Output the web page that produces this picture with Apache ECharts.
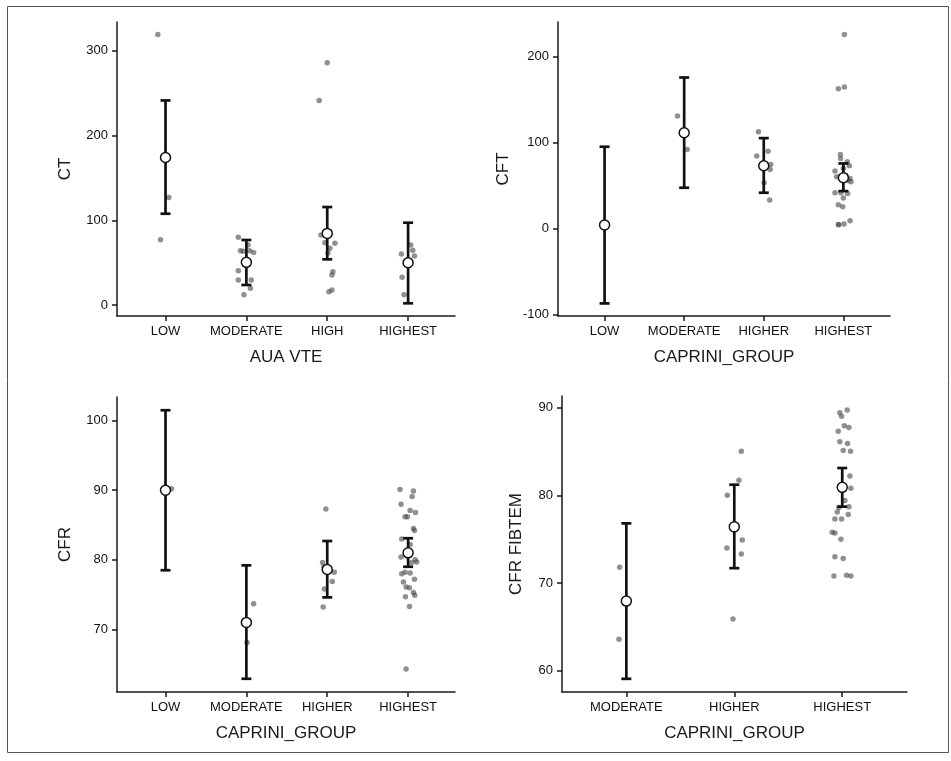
<!DOCTYPE html>
<html>
<head>
<meta charset="utf-8">
<script src="https://cdn.jsdelivr.net/npm/echarts@6/dist/echarts.min.js"></script>
<style>
html,body{margin:0;padding:0;background:#fff;}
#chart{width:951px;height:761px;}
</style>
</head>
<body>
<div id="chart"></div>
<script>
// ---------- Panel 1: CT by AUA VTE ----------
const p1Categories = ['LOW', 'MODERATE', 'HIGH', 'HIGHEST'];
const p1Means = [174.1, 50.3, 84.5, 49.9];
const p1Lower = [107.7, 23.6, 53.9, 2.0];
const p1Upper = [241.4, 76.7, 115.6, 97.1];
const p1Ticks = [0, 100, 200, 300];
// points: [category index, horizontal jitter, value]
const p1Points = [
  [0, -0.095, 319.2], [0, 0.041, 127], [0, -0.062, 77],
  [1, -0.10, 79.8], [1, -0.074, 64.1], [1, -0.04, 63.5], [1, 0.04, 64], [1, 0.09, 62], [1, 0.02, 70.8],
  [1, -0.10, 40.5], [1, -0.10, 29.5], [1, 0.06, 29.5], [1, 0.05, 19.7], [1, -0.03, 12.2],
  [2, -0.10, 241.4], [2, 0.0, 285.8], [2, -0.078, 82.5], [2, -0.029, 73.5], [2, 0.095, 72.8],
  [2, 0.033, 66.9], [2, 0.009, 61.3], [2, 0.07, 39.2], [2, 0.058, 35.4], [2, 0.058, 17.7], [2, 0.021, 15.7],
  [3, -0.083, 60.1], [3, 0.033, 70.8], [3, 0.058, 64.5], [3, 0.078, 57.8], [3, -0.074, 32.6], [3, -0.05, 12.2]
];

// ---------- Panel 2: CFT by CAPRINI_GROUP ----------
const p2Categories = ['LOW', 'MODERATE', 'HIGHER', 'HIGHEST'];
const p2Means = [4.3, 111.4, 73.1, 59.2];
const p2Lower = [-86.7, 47.6, 41.8, 43.7];
const p2Upper = [95.2, 175.6, 105.2, 75.8];
const p2Ticks = [-100, 0, 100, 200];
const p2Points = [
  [1, -0.084, 130.8], [1, 0.038, 92.1],
  [2, -0.067, 112.6], [2, -0.088, 84.3], [2, 0.054, 90.1], [2, 0.088, 74.7], [2, 0.08, 68.9], [2, 0.004, 53.4], [2, 0.075, 33.3],
  [3, 0.013, 225.5], [3, -0.063, 162.5], [3, 0.013, 164.4], [3, -0.038, 86.3], [3, -0.035, 81.5],
  [3, 0.05, 77.8], [3, 0.075, 73.1], [3, -0.105, 66.9], [3, 0.0, 70], [3, -0.084, 60.3], [3, 0.03, 62],
  [3, 0.084, 58.4], [3, 0.096, 54.5], [3, 0.06, 56], [3, -0.105, 41.8], [3, -0.03, 41.8], [3, 0.054, 41],
  [3, 0.0, 35.6], [3, -0.063, 27.9], [3, -0.008, 25.5], [3, -0.063, 5], [3, -0.058, 4.6], [3, 0.008, 5.4], [3, 0.084, 9.3]
];

// ---------- Panel 3: CFR by CAPRINI_GROUP ----------
const p3Categories = ['LOW', 'MODERATE', 'HIGHER', 'HIGHEST'];
const p3Means = [90.0, 71.0, 78.6, 81.0];
const p3Lower = [78.5, 62.9, 74.6, 79.0];
const p3Upper = [101.5, 79.2, 82.7, 83.1];
const p3Ticks = [70, 80, 90, 100];
const p3Points = [
  [0, 0.074, 90.2],
  [1, 0.09, 73.7], [1, 0.008, 68.1],
  [2, -0.017, 87.3], [2, -0.058, 79.6], [2, -0.041, 79.0], [2, 0.087, 78.2], [2, 0.062, 76.9], [2, -0.037, 75.8], [2, -0.05, 73.2],
  [3, -0.1, 90.1], [3, 0.066, 89.9], [3, 0.05, 89.1], [3, -0.087, 88.0], [3, 0.025, 87.1], [3, 0.091, 86.8],
  [3, -0.037, 86.2], [3, -0.008, 86.2], [3, 0.066, 84.5], [3, 0.079, 84.2], [3, -0.079, 83.0], [3, 0.025, 82.2],
  [3, -0.087, 80.4], [3, 0.087, 80.0], [3, 0.045, 79.6], [3, 0.107, 79.7], [3, -0.037, 78.2], [3, -0.079, 78.0],
  [3, 0.025, 78.1], [3, 0.079, 77.2], [3, -0.058, 76.8], [3, -0.025, 76.1], [3, 0.017, 76.0], [3, 0.066, 75.3],
  [3, 0.083, 74.9], [3, -0.033, 74.7], [3, 0.017, 73.3], [3, -0.025, 64.3]
];

// ---------- Panel 4: CFR FIBTEM by CAPRINI_GROUP ----------
const p4Categories = ['MODERATE', 'HIGHER', 'HIGHEST'];
const p4Means = [67.95, 76.4, 80.9];
const p4Lower = [59.1, 71.7, 78.7];
const p4Upper = [76.8, 81.2, 83.1];
const p4Ticks = [60, 70, 80, 90];
const p4Points = [
  [0, -0.062, 71.8], [0, -0.068, 63.6],
  [1, 0.065, 85.0], [1, 0.043, 81.7], [1, -0.065, 80.0], [1, 0.074, 74.9], [1, -0.068, 74.0], [1, 0.065, 73.3], [1, -0.012, 65.9],
  [2, -0.022, 89.4], [2, 0.046, 89.7], [2, -0.006, 89.0], [2, 0.019, 87.9], [2, 0.062, 87.7], [2, -0.037, 87.3],
  [2, -0.022, 86.1], [2, 0.049, 85.9], [2, 0.009, 85.1], [2, 0.077, 85.0], [2, 0.071, 82.2], [2, 0.08, 80.8],
  [2, 0.025, 79.4], [2, 0.062, 78.7], [2, -0.031, 78.6], [2, -0.046, 78.1], [2, 0.056, 77.8], [2, -0.068, 77.3],
  [2, -0.006, 77.3], [2, -0.093, 75.8], [2, -0.068, 75.7], [2, -0.012, 75.0], [2, -0.068, 73.0], [2, 0.009, 72.8],
  [2, -0.077, 70.8], [2, 0.04, 70.9], [2, 0.08, 70.8]
];

const FONT = 'Liberation Sans, Arial, sans-serif';

const panels = [
  {cats: p1Categories, means: p1Means, lo: p1Lower, hi: p1Upper, ticks: p1Ticks, pts: p1Points,
   grid: {left: 117, top: 22, width: 338, height: 294}, xmin: -0.6, xmax: 3.58, ymin: -13, ymax: 334,
   xname: 'AUA VTE', yname: 'CT', ygap: 43},
  {cats: p2Categories, means: p2Means, lo: p2Lower, hi: p2Upper, ticks: p2Ticks, pts: p2Points,
   grid: {left: 558, top: 22, width: 332, height: 294}, xmin: -0.585, xmax: 3.586, ymin: -101.3, ymax: 240,
   xname: 'CAPRINI_GROUP', yname: 'CFT', ygap: 46},
  {cats: p3Categories, means: p3Means, lo: p3Lower, hi: p3Upper, ticks: p3Ticks, pts: p3Points,
   grid: {left: 117, top: 397, width: 338, height: 295}, xmin: -0.6, xmax: 3.58, ymin: 61, ymax: 103.4,
   xname: 'CAPRINI_GROUP', yname: 'CFR', ygap: 43},
  {cats: p4Categories, means: p4Means, lo: p4Lower, hi: p4Upper, ticks: p4Ticks, pts: p4Points,
   grid: {left: 562, top: 396, width: 345, height: 296}, xmin: -0.596, xmax: 2.6, ymin: 57.6, ymax: 91.3,
   xname: 'CAPRINI_GROUP', yname: 'CFR FIBTEM', ygap: 37}
];

const grids = [], xAxes = [], yAxes = [], series = [];
const axisLineStyle = {color: '#1a1a1a', width: 1.5};

function errRender(params, api) {
  const x = api.value(0), lo = api.value(1), hi = api.value(2);
  const a = api.coord([x, lo]);
  const b = api.coord([x, hi]);
  const w = 5;
  const st = {stroke: '#111', lineWidth: 2.7};
  return {
    type: 'group',
    children: [
      {type: 'line', shape: {x1: a[0], y1: a[1], x2: b[0], y2: b[1]}, style: st},
      {type: 'line', shape: {x1: a[0] - w, y1: a[1], x2: a[0] + w, y2: a[1]}, style: st},
      {type: 'line', shape: {x1: b[0] - w, y1: b[1], x2: b[0] + w, y2: b[1]}, style: st}
    ]
  };
}

panels.forEach((p, i) => {
  grids.push(Object.assign({containLabel: false}, p.grid));
  const catIdx = p.cats.map((c, k) => k);
  xAxes.push({
    type: 'value', gridIndex: i, min: p.xmin, max: p.xmax, position: 'bottom',
    splitLine: {show: false},
    axisLine: {show: true, onZero: false, lineStyle: axisLineStyle},
    axisTick: {show: true, customValues: catIdx, length: 5, lineStyle: {color: '#1a1a1a', width: 1.5}},
    axisLabel: {show: true, customValues: catIdx, margin: 9, fontSize: 13, color: '#111', fontFamily: FONT,
      formatter: v => p.cats[Math.round(v)] || ''},
    name: p.xname, nameLocation: 'middle', nameGap: 33,
    nameTextStyle: {fontSize: 17, color: '#1a1a1a', fontFamily: FONT}
  });
  yAxes.push({
    type: 'value', gridIndex: i, min: p.ymin, max: p.ymax, position: 'left',
    splitLine: {show: false},
    axisLine: {show: true, onZero: false, lineStyle: axisLineStyle},
    axisTick: {show: true, customValues: p.ticks, length: 5, lineStyle: {color: '#1a1a1a', width: 1.5}},
    axisLabel: {show: true, customValues: p.ticks, margin: 9, fontSize: 13, color: '#111', fontFamily: FONT},
    name: p.yname, nameLocation: 'middle', nameGap: p.ygap, nameRotate: 90,
    nameTextStyle: {fontSize: 17, color: '#1a1a1a', fontFamily: FONT}
  });
  series.push({
    type: 'scatter', xAxisIndex: i, yAxisIndex: i, symbolSize: 5.5, silent: true,
    itemStyle: {color: 'rgba(70,70,70,0.75)'},
    data: p.pts.map(d => [d[0] + d[1], d[2]]),
    z: 2
  });
  series.push({
    type: 'custom', xAxisIndex: i, yAxisIndex: i, renderItem: errRender, silent: true,
    encode: {x: 0, y: [1, 2]},
    data: p.cats.map((c, k) => [k, p.lo[k], p.hi[k]]),
    z: 3
  });
  series.push({
    type: 'scatter', xAxisIndex: i, yAxisIndex: i, symbolSize: 10, silent: true,
    itemStyle: {color: '#fff', borderColor: '#111', borderWidth: 1.5, opacity: 1},
    data: p.cats.map((c, k) => [k, p.means[k]]),
    z: 4
  });
});

const chart = echarts.init(document.getElementById('chart'), null, {renderer: 'canvas'});
chart.setOption({
  animation: false,
  backgroundColor: '#fff',
  textStyle: {fontFamily: FONT},
  graphic: [{
    type: 'rect', left: 5, top: 4, shape: {width: 941, height: 746},
    style: {fill: 'none', stroke: '#555', lineWidth: 1}, silent: true, z: -1
  }],
  grid: grids,
  xAxis: xAxes,
  yAxis: yAxes,
  series: series
});
</script>
</body>
</html>
